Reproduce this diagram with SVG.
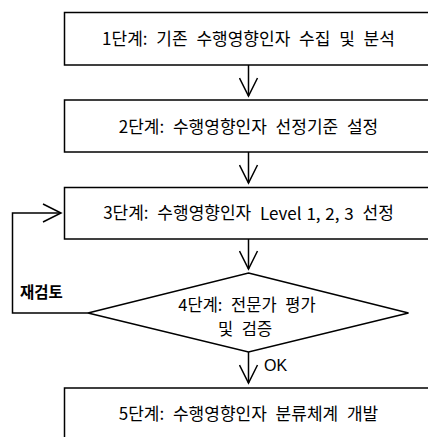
<svg xmlns="http://www.w3.org/2000/svg" width="428" height="437" viewBox="0 0 428 437">
<style>
.box{fill:#fff;stroke:#000;stroke-width:1.5}
.t{font-family:"Noto Sans CJK KR","Noto Sans",sans-serif;font-size:17px;word-spacing:5px;fill:#000;text-anchor:middle;dominant-baseline:central}
.d{font-size:16.5px}
.lat{word-spacing:1px}
.lbl{font-family:"Noto Sans CJK KR",sans-serif;font-size:15.5px;font-weight:bold;fill:#000}
.ok{font-family:"Liberation Sans",Arial,sans-serif;font-size:16px;fill:#000}
.c{fill:none;stroke:#000;stroke-width:1.5}
</style>
<defs>
<marker id="arr" viewBox="0 0 22 20" markerWidth="22" markerHeight="20" refX="20" refY="10" orient="auto" markerUnits="userSpaceOnUse">
<path d="M2,1 L20,10 L2,19" fill="none" stroke="#000" stroke-width="1.5"/>
</marker>
</defs>
<rect width="428" height="437" fill="#fff"/>
<g id="connectors">
<line class="c" x1="248.5" y1="65" x2="248.5" y2="96" marker-end="url(#arr)"/>
<line class="c" x1="248.5" y1="152" x2="248.5" y2="183" marker-end="url(#arr)"/>
<line class="c" x1="248.5" y1="239" x2="248.5" y2="269" marker-end="url(#arr)"/>
<line class="c" x1="248.5" y1="352" x2="248.5" y2="383" marker-end="url(#arr)"/>
<polyline class="c" points="88,313 12.5,313 12.5,213 61,213" marker-end="url(#arr)"/>
<text class="lbl" x="20" y="298">재검토</text>
<text class="ok" x="264" y="371">OK</text>
</g>
<g id="step1">
<rect class="box" x="64.5" y="12.5" width="370" height="52.5"/>
<text class="t" x="248.5" y="37.5">1단계: 기존 수행영향인자 수집 및 분석</text>
</g>
<g id="step2">
<rect class="box" x="64.5" y="100" width="370" height="52"/>
<text class="t" x="248.5" y="125">2단계: 수행영향인자 선정기준 설정</text>
</g>
<g id="step3">
<rect class="box" x="64.5" y="187.5" width="370" height="51.5"/>
<text class="t" x="248.5" y="211.5">3단계: 수행영향인자 <tspan class="lat">Level 1, 2, 3</tspan> 선정</text>
</g>
<g id="step4">
<polygon class="box" points="248.5,273 408.5,313 248.5,352 88,313"/>
<text class="t d" x="247" y="303.5">4단계: 전문가 평가</text>
<text class="t d" x="245" y="327.5">및 검증</text>
</g>
<g id="step5">
<rect class="box" x="64.5" y="388" width="370" height="60"/>
<text class="t" x="248.5" y="412.5">5단계: 수행영향인자 분류체계 개발</text>
</g>
</svg>
